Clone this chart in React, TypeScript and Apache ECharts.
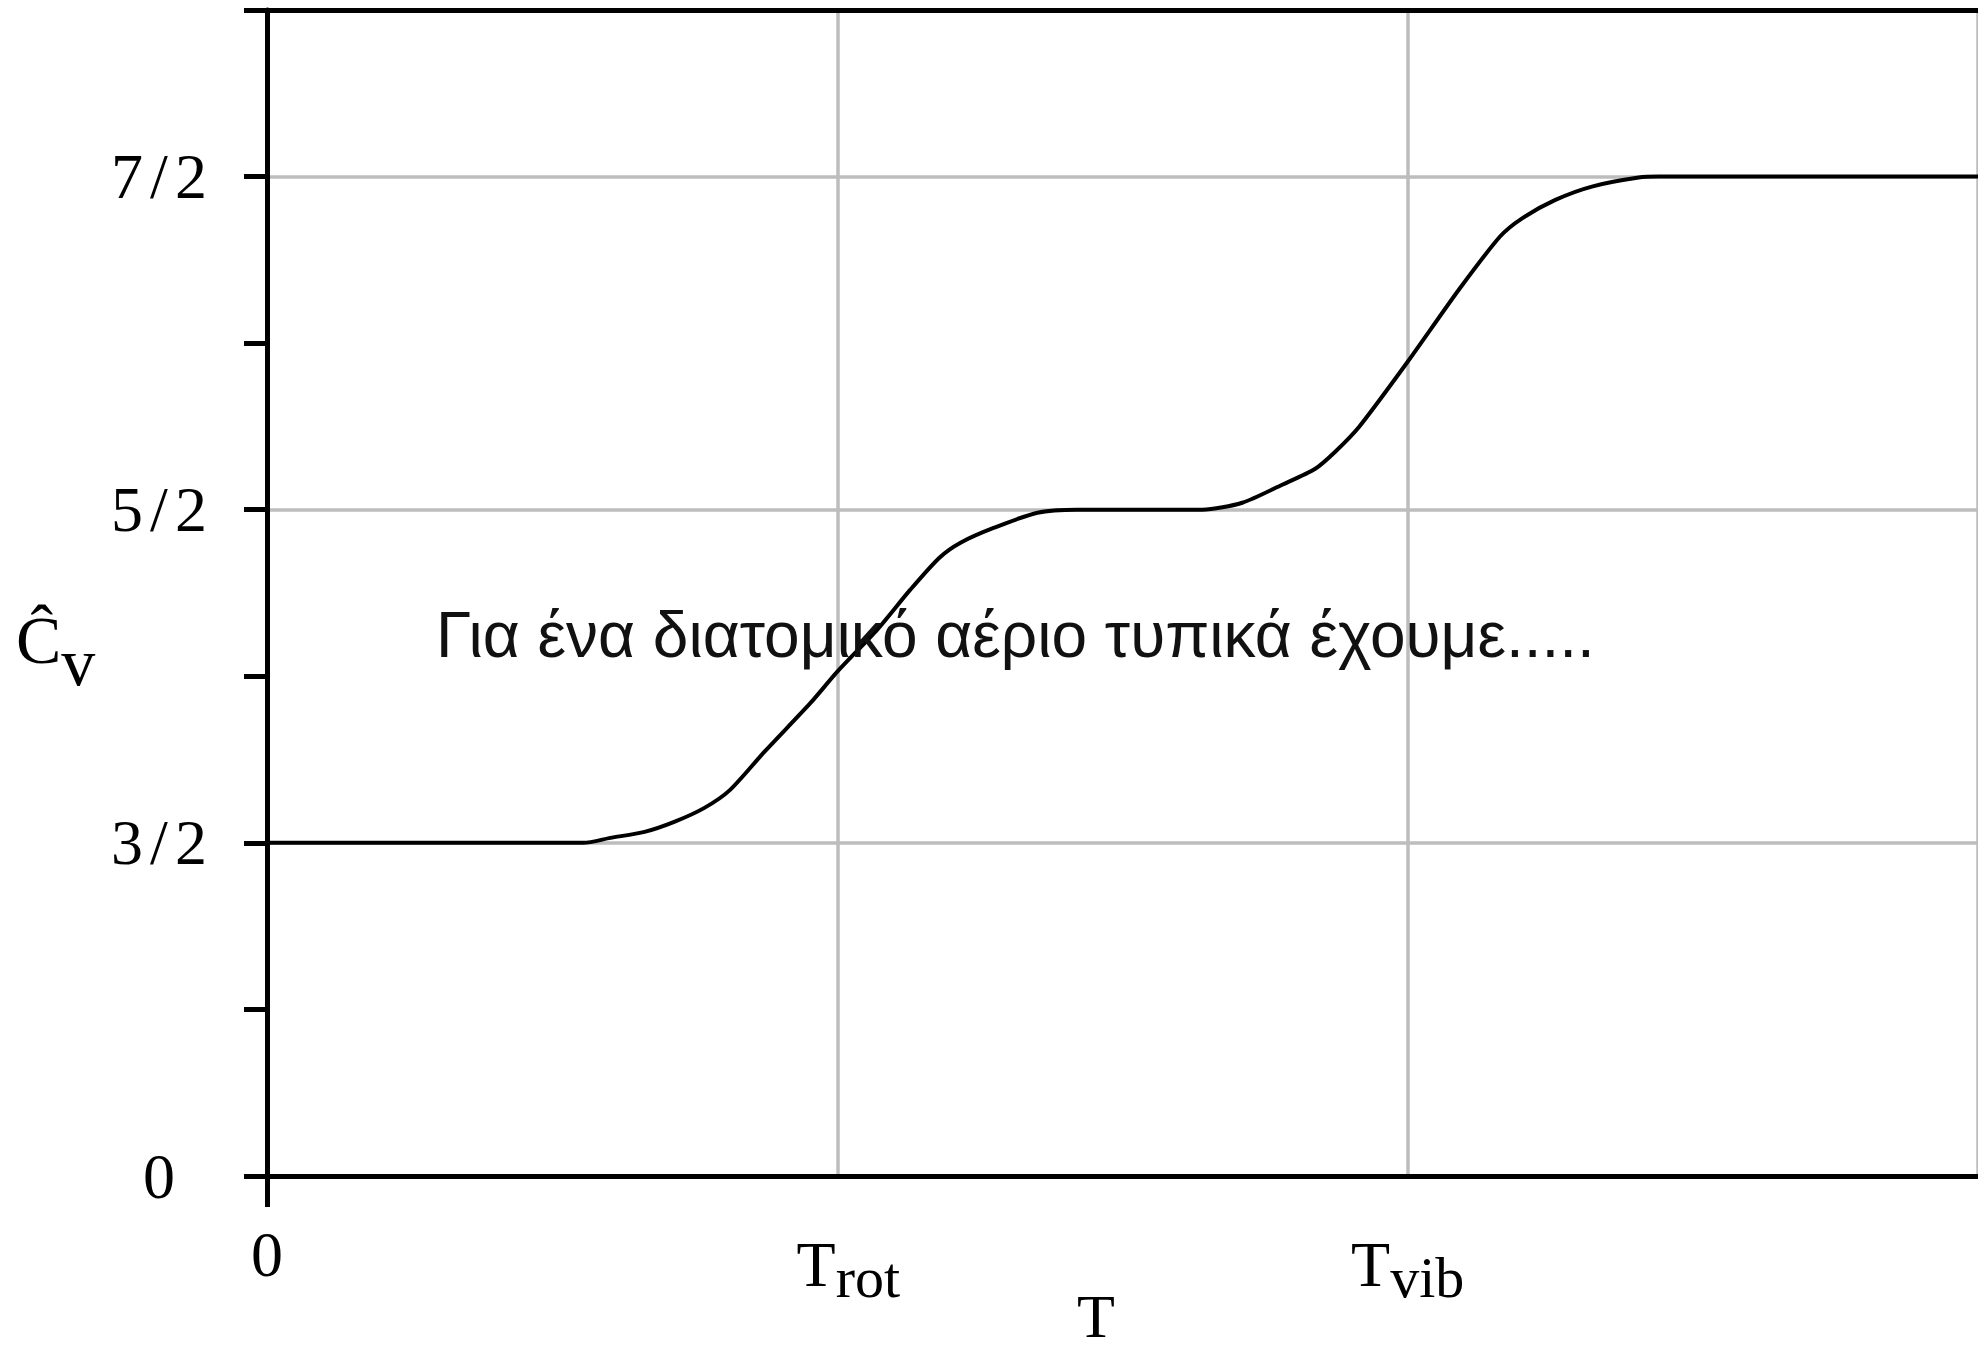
import React, { useEffect, useRef } from "react";
import * as echarts from "echarts";

// Temperature in schematic units (T_rot = 1, T_vib = 2)
const T_VALUES = [0, 0.555, 0.602, 0.662, 0.714, 0.767, 0.812, 0.872, 0.953, 1.0, 1.07, 1.128, 1.179, 1.216, 1.275, 1.351, 1.42, 1.64, 1.71, 1.78, 1.838, 1.873, 1.915, 2.0, 2.09, 2.162, 2.2, 2.259, 2.323, 2.405, 2.44, 3.0];
// Molar heat capacity in units of R
const CV_VALUES = [1.5, 1.5, 1.515, 1.533, 1.563, 1.605, 1.659, 1.773, 1.92, 2.014, 2.14, 2.26, 2.356, 2.401, 2.446, 2.491, 2.5, 2.5, 2.521, 2.575, 2.623, 2.674, 2.749, 2.944, 3.161, 3.32, 3.374, 3.43, 3.47, 3.497, 3.5, 3.5];

const Y_LABEL_VALUES = [0.5, 1.5, 2.5, 3.5];
const Y_LABEL_NUM = ["0", "3", "5", "7"];
const Y_LABEL_DEN = ["", "2", "2", "2"];

const X_LABEL_VALUES = [0, 1, 2];
const X_LABEL_MAIN = ["0", "T", "T"];
const X_LABEL_SUB = ["", "rot", "vib"];

const ANNOTATION = "Για ένα διατομικό αέριο τυπικά έχουμε.....";
const X_NAME = "T";
const Y_NAME_MAIN = "Ĉ";
const Y_NAME_SUB = "v";

const SERIF = "'Liberation Serif', 'DejaVu Serif', serif";
const SANS = "'Liberation Sans', Arial, sans-serif";

export default function App() {
  const ref = useRef<HTMLDivElement>(null);

  useEffect(() => {
    if (!ref.current) return;
    const chart = echarts.init(ref.current, null, { renderer: "svg" });
    const data = T_VALUES.map((t, i) => [t, CV_VALUES[i]]);

    const yFormatter = (v: number) => {
      const i = Y_LABEL_VALUES.findIndex((u) => Math.abs(u - v) < 1e-6);
      if (i < 0) return "";
      if (!Y_LABEL_DEN[i]) return `{a|${Y_LABEL_NUM[i]}}`;
      return `{a|${Y_LABEL_NUM[i]}}{s|/}{a|${Y_LABEL_DEN[i]}}`;
    };
    const xFormatter = (v: number) => {
      const i = X_LABEL_VALUES.findIndex((u) => Math.abs(u - v) < 1e-6);
      if (i < 0) return "";
      if (!X_LABEL_SUB[i]) return `{n|${X_LABEL_MAIN[i]}}`;
      const main = i === 1 ? "t1" : "t";
      return `{${main}|${X_LABEL_MAIN[i]}}{s|${X_LABEL_SUB[i]}}`;
    };

    const option: any = {
      animation: false,
      backgroundColor: "#ffffff",
      grid: { left: 267, top: 10, right: -1, bottom: 174, containLabel: false },
      xAxis: [
        {
          type: "value",
          min: 0,
          max: 3,
          interval: 1,
          position: "bottom",
          z: 3,
          axisLine: { show: true, onZero: false, lineStyle: { color: "#000", width: 5 } },
          axisTick: { show: true, inside: false, length: 31, customValues: [0], lineStyle: { color: "#000", width: 5 } },
          axisLabel: {
            show: true,
            margin: 46,
            showMaxLabel: false,
            formatter: xFormatter,
            rich: {
              n: { fontFamily: SERIF, fontSize: 64, color: "#000", lineHeight: 64 },
              t: { fontFamily: SERIF, fontSize: 64, color: "#000", lineHeight: 64, verticalAlign: "middle" },
              t1: { fontFamily: SERIF, fontSize: 64, color: "#000", lineHeight: 64, verticalAlign: "middle", padding: [0, 0, 0, 22] },
              s: { fontFamily: SERIF, fontSize: 58, color: "#000", lineHeight: 84, verticalAlign: "bottom" },
            },
          },
          splitLine: { show: false },
        },
        {
          type: "value",
          min: 0,
          max: 3,
          position: "top",
          z: 3,
          axisLine: { show: true, onZero: false, lineStyle: { color: "#000", width: 5 } },
          axisTick: { show: false },
          axisLabel: { show: false },
          splitLine: { show: false },
        },
        {
          type: "value",
          min: 0,
          max: 3,
          interval: 1,
          position: "bottom",
          z: 1,
          axisLine: { show: false },
          axisTick: { show: false },
          axisLabel: { show: false },
          splitLine: { show: true, lineStyle: { color: "#bdbdbd", width: 3.5 } },
        },
      ],
      yAxis: [
        {
          type: "value",
          min: 0.5,
          max: 4,
          interval: 0.5,
          position: "left",
          z: 3,
          axisLine: { show: true, onZero: false, lineStyle: { color: "#000", width: 5 } },
          axisTick: { show: true, inside: false, length: 23, lineStyle: { color: "#000", width: 5 } },
          axisLabel: {
            show: true,
            margin: 108,
            align: "center",
            verticalAlign: "middle",
            formatter: yFormatter,
            rich: {
              a: { fontFamily: SERIF, fontSize: 64, color: "#000" },
              s: { fontFamily: SERIF, fontSize: 64, color: "#000", padding: [0, 7, 0, 7] },
            },
          },
          splitLine: { show: false },
        },
        {
          type: "value",
          min: 0.5,
          max: 4,
          interval: 1,
          position: "left",
          z: 1,
          axisLine: { show: false },
          axisTick: { show: false },
          axisLabel: { show: false },
          splitLine: { show: true, lineStyle: { color: "#bdbdbd", width: 3.5 } },
        },
      ],
      series: [
        {
          type: "line",
          xAxisIndex: 0,
          yAxisIndex: 0,
          data,
          z: 2,
          showSymbol: false,
          symbol: "none",
          smooth: 0.25,
          lineStyle: { color: "#000", width: 4, join: "round", cap: "round" },
          silent: true,
        },
      ],
      graphic: [
        {
          type: "text",
          left: 436,
          top: 603,
          z: 10,
          style: { text: ANNOTATION, font: `64px ${SANS}`, fill: "#111" },
        },
        {
          type: "text",
          x: 1096,
          y: 1316,
          style: { text: X_NAME, font: `62px ${SERIF}`, fill: "#000", align: "center", verticalAlign: "middle" },
        },
        {
          type: "text",
          x: 16,
          y: 651,
          style: {
            text: `{c|${Y_NAME_MAIN}}{v|${Y_NAME_SUB}}`,
            align: "left",
            verticalAlign: "middle",
            rich: {
              c: { fontFamily: SERIF, fontSize: 68, fill: "#000", lineHeight: 68, verticalAlign: "top" },
              v: { fontFamily: SERIF, fontSize: 68, fill: "#000", lineHeight: 90, verticalAlign: "bottom" },
            },
          },
        },
      ],
    };

    chart.setOption(option);
    return () => chart.dispose();
  }, []);

  return (
    <div
      ref={ref}
      style={{ position: "absolute", left: 0, top: 0, width: 1978, height: 1350, background: "#fff" }}
    />
  );
}
